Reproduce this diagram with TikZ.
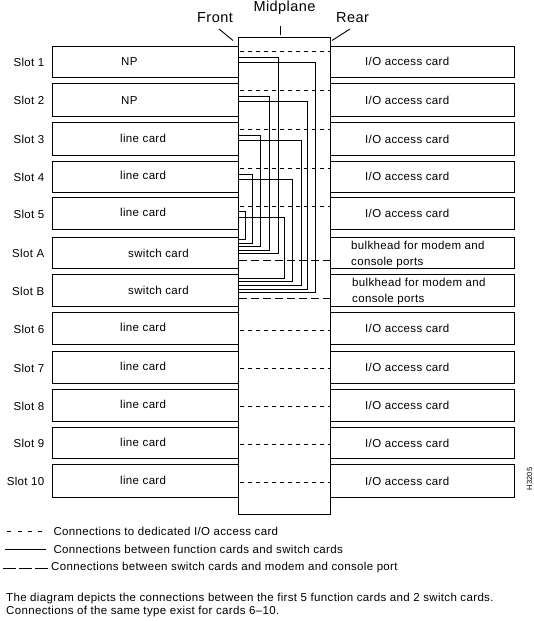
\documentclass[tikz,border=0pt]{standalone}
\usepackage{fontspec}
\setmainfont{Liberation Sans}[LetterSpace=3]
\begin{document}
\begin{tikzpicture}[x=1pt,y=-1pt,
  card/.style={draw, line width=0.9pt, inner sep=0pt, anchor=north west},
  lbl/.style={inner sep=0pt, font=\fontsize{11.5}{13.5}\selectfont},
  hdr/.style={inner sep=0pt, font=\fontsize{14.5}{16}\selectfont},
  thin/.style={line width=0.9pt},
  iolink/.style={line width=0.9pt, dash pattern=on 4pt off 4pt, dash phase=6pt},
  mclink/.style={line width=0.9pt, dash pattern=on 8pt off 4pt},
  swlink/.style={line width=0.9pt}]
\useasboundingbox (0,0) rectangle (534,621);

% midplane
\node[card, minimum width=91.4pt, minimum height=477pt] (mid) at (238.3,37) {};

% header
\node[hdr] (hmid) at (284.5,8) {Midplane};
\node[hdr] (hfront) at (215,18) {Front};
\node[hdr] (hrear) at (352.5,18) {Rear};
\coordinate (tmid) at (280.3,34.5);
\coordinate (tfront) at (233,40.5);
\coordinate (trear) at (332,40.5);
\draw[thin] (280.3,26) -- (tmid);
\draw[thin] (219,29) -- (tfront);
\draw[thin] (350,29) -- (trear);

% slot boxes
\foreach \t/\b/\n in {45.7/76.7/1, 83.3/116/2, 122/155/3, 160.7/191.7/4, 197.3/229.3/5,
  237.3/268.3/A, 274.3/306.3/B, 312/344.3/6, 351/383.3/7, 389.3/421.3/8, 426.7/458.3/9, 464.3/496.7/10}{
  \pgfmathsetmacro{\h}{\b-\t}
  \node[card, minimum width=186.3pt, minimum height=\h pt] (L\n) at (52,\t) {};
  \node[card, minimum width=184.6pt, minimum height=\h pt] (R\n) at (329.7,\t) {};
  \node[lbl, anchor=east] (S\n) at (44.5,{(\t+\b)/2+1}) {Slot \n};
}

% front card labels
\node[lbl, anchor=west] (c1) at (121,0 |- L1.center) {NP};
\node[lbl, anchor=west] (c2) at (121,0 |- L2.center) {NP};
\foreach \n in {3,4,5,6,7,8,9,10}{
  \node[lbl, anchor=west, yshift=1pt] (c\n) at (120,0 |- L\n.center) {line card};
}
\node[lbl, anchor=west] (cA) at (128,0 |- LA.center) {switch card};
\node[lbl, anchor=west] (cB) at (128,0 |- LB.center) {switch card};

% rear card labels
\foreach \n in {1,2,3,4,5,6,7,8,9,10}{
  \node[lbl, anchor=west] (r\n) at (365,0 |- R\n.center) {I/O access card};
}
\node[lbl, anchor=west, align=left, font=\fontsize{11.5}{15.6}\selectfont] (rA) at (351,254.5) {bulkhead for modem and\\console ports};
\node[lbl, anchor=west, align=left, font=\fontsize{11.5}{15.6}\selectfont] (rB) at (352,291.3) {bulkhead for modem and\\console ports};

% dedicated I/O links
\foreach \y [count=\k] in {51.3, 90.3, 129, 168.3, 206, 330.3, 368.3, 406.3, 444.3, 482.3}{
  \coordinate (ia\k) at (238.3,\y);
  \coordinate (ib\k) at (329.7,\y);
  \draw[iolink] (ia\k) -- (ib\k);
}

% switch to modem/console links
\coordinate (ma) at (239,260);   \coordinate (mb) at (329.7,260);
\coordinate (na) at (239,298);   \coordinate (nb) at (329.7,298);
\draw[mclink] (ma) -- (mb);
\draw[mclink] (na) -- (nb);

% function card to switch card links
\foreach \k/\ya/\xa/\ba/\yb/\xb/\bb in {
  1/57.3/278.3/253.3/62/315.7/292.3,
  2/96.7/269.3/250/101/307.3/289,
  3/135.3/260.3/246.3/140.3/301.7/285.3,
  4/174.3/252.3/243.3/179.3/292.3/281.3,
  5/211.7/245.3/239.3/217.3/284.3/278.3}{
  \coordinate (fa\k) at (238.3,\ya);
  \coordinate (ka\k) at (\xa,\ba);
  \coordinate (ea\k) at (238.3,\ba);
  \coordinate (fb\k) at (238.3,\yb);
  \coordinate (kb\k) at (\xb,\bb);
  \coordinate (eb\k) at (238.3,\bb);
  \draw[swlink] (fa\k) -| (ka\k) -- (ea\k);
  \draw[swlink] (fb\k) -| (kb\k) -- (eb\k);
}

% figure code
\node[rotate=90, inner sep=0pt, font=\fontsize{7.5}{9}\selectfont] (code) at (529.5,479) {H3205};

% legend
\draw[line width=0.9pt, dash pattern=on 4pt off 6.3pt] (7.3,531.5) -- (42.3,531.5);
\node[lbl, anchor=west] (leg1) at (53.3,531.5) {Connections to dedicated I/O access card};
\draw[line width=0.9pt] (5,549.3) -- (45.7,549.3);
\node[lbl, anchor=west] (leg2) at (53.3,549.3) {Connections between function cards and switch cards};
\draw[line width=0.9pt, dash pattern=on 12.7pt off 3.3pt] (3.3,568) -- (49.3,568);
\node[lbl, anchor=west] (leg3) at (51,568) {Connections between switch cards and modem and console port};

\node[lbl, anchor=west] (p1) at (6,598.5) {The diagram depicts the connections between the first 5 function cards and 2 switch cards.};
\node[lbl, anchor=west] (p2) at (6,612) {Connections of the same type exist for cards 6--10.};
\end{tikzpicture}
\end{document}
